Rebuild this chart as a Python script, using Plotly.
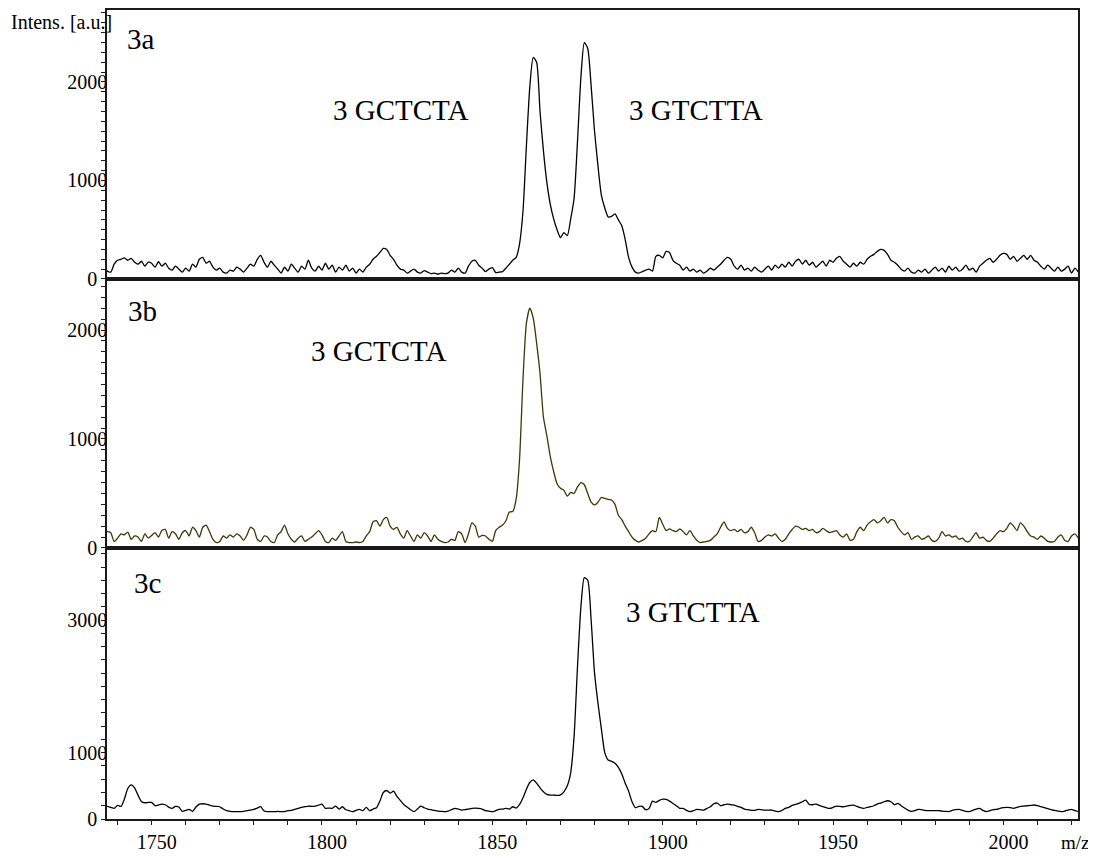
import plotly.graph_objects as go

# m/z grid: one sample per unit starting at 1736
MZ_START = 1736

INTENS_3A = [
    140, 80, 70, 150, 190, 200, 215, 190, 210, 170,
    150, 180, 130, 170, 160, 120, 175, 130, 160, 110,
    90, 130, 100, 70, 110, 80, 150, 120, 200, 220,
    160, 180, 120, 90, 110, 70, 60, 90, 80, 120,
    100, 70, 110, 150, 130, 200, 240, 170, 120, 180,
    140, 100, 60, 120, 80, 150, 110, 70, 130, 100,
    190, 110, 80, 130, 90, 160, 100, 140, 70, 120,
    90, 140, 80, 110, 60, 100, 70, 120, 150, 200,
    230, 270, 310, 300, 240, 200, 140, 100, 90, 60,
    80, 100, 70, 60, 85, 70, 55, 60, 50, 60,
    55, 60, 90, 70, 110, 70, 60, 130, 180, 190,
    140, 110, 75, 100, 115, 65, 70, 75, 110, 150,
    190, 220, 360, 690, 1350, 1950, 2250, 2200, 1700, 1300,
    980, 760, 610, 500, 420, 470, 440, 610, 820, 1400,
    2050, 2400, 2340, 1960, 1500, 1150, 850, 720, 630, 635,
    660, 600, 540, 400, 220, 120, 70, 60, 75, 90,
    100, 80, 230, 240, 215, 280, 270, 190, 160, 140,
    90, 120, 80, 100, 70, 90, 60, 80, 110, 90,
    120, 150, 190, 220, 200, 130, 100, 140, 90, 110,
    80, 120, 90, 70, 100, 130, 90, 140, 110, 150,
    120, 170, 130, 180, 200, 150, 190, 140, 170, 120,
    150, 180, 130, 190, 170, 210, 230, 180, 150, 120,
    160, 130, 170, 150, 200, 230, 250, 280, 300, 290,
    250, 190, 170, 140, 100, 80, 110, 70, 60, 90,
    70, 100, 60, 90, 120, 80, 110, 70, 130, 90,
    120, 80, 100, 140, 90, 110, 70, 130, 160, 190,
    210, 170, 200, 240, 260, 250, 200, 230, 180, 210,
    240, 200, 240, 190, 170, 130, 100, 140, 110, 80,
    120, 80, 100, 130, 60, 110, 70,
]

INTENS_3B = [
    130, 150, 140, 60, 90, 130, 120, 145, 80, 110,
    100, 60, 130, 90, 115, 140, 100, 160, 170, 90,
    150, 130, 80, 140, 160, 110, 190, 160, 100, 190,
    210, 150, 80, 50, 60, 110, 90, 120, 100, 130,
    110, 70, 120, 190, 170, 80, 60, 110, 100, 60,
    50, 120, 150, 210, 130, 80, 55, 90, 110, 60,
    80, 100, 130, 160, 120, 60, 50, 90, 70, 110,
    150, 60, 50, 50, 55, 50, 60, 110, 150, 240,
    250, 200, 260, 280, 200, 170, 190, 130, 90, 160,
    110, 60, 120, 90, 140, 110, 60, 120, 80, 60,
    50, 55, 80, 70, 150, 130, 50, 130, 230, 200,
    100, 115, 110, 80, 60, 160, 190, 210, 250, 330,
    335, 450, 820, 1550, 2060, 2200, 2110, 1880, 1600, 1200,
    1030, 840, 700, 590, 548, 530, 475, 510, 500, 560,
    600, 580, 500, 420, 395, 420, 465, 455, 445, 440,
    400, 300, 260, 200, 150, 100, 70, 55, 70, 90,
    130, 160, 150, 280, 220, 160, 175, 160, 150, 175,
    150, 120, 160, 110, 70, 50, 55, 60, 70, 100,
    130, 190, 240, 180, 160, 170, 150, 170, 140, 150,
    190, 140, 60, 70, 100, 120, 110, 130, 90, 60,
    80, 130, 170, 200, 190, 170, 180, 160, 170, 140,
    150, 180, 160, 140, 150, 160, 120, 100, 130, 70,
    80, 150, 190, 160, 210, 240, 260, 230, 250, 280,
    230, 260, 250, 190, 150, 120, 140, 80, 100, 110,
    80, 90, 110, 70, 60, 90, 150, 110, 120, 100,
    110, 80, 90, 60, 60, 100, 140, 90, 100, 70,
    60, 90, 130, 160, 150, 180, 230, 200, 160, 230,
    200, 150, 110, 100, 80, 110, 90, 60, 55, 60,
    100, 120, 70, 60, 110, 130, 90,
]

INTENS_3C = [
    170, 190, 175, 160, 205, 190, 300, 460, 515, 470,
    360, 265, 245, 250, 250, 200, 210, 225, 215, 180,
    160, 190, 180, 115, 130, 145, 115, 180, 225, 230,
    225, 210, 195, 190, 185, 150, 125, 115, 110, 110,
    110, 115, 125, 135, 145, 165, 185, 120, 110, 112,
    110, 115, 110, 112, 125, 130, 145, 160, 175, 185,
    195, 190, 195, 210, 225, 160, 165, 160, 195, 150,
    185, 140, 125, 110, 130, 145, 125, 175, 125, 150,
    170, 270, 400, 430, 390, 420, 340, 280, 220, 180,
    140, 110, 150, 195, 170, 150, 140, 130, 120, 115,
    110, 120, 140, 160, 150, 135, 140, 150, 160, 165,
    160, 150, 125, 120, 110, 125, 145, 150, 160, 150,
    185, 165, 220, 320, 450, 550, 590, 540, 470, 410,
    370, 360, 360, 355, 365, 410, 500, 700, 1250, 2300,
    3200, 3640, 3600, 3000, 2200, 1750, 1360, 1000, 890, 870,
    840, 780, 680, 540, 420, 260, 170, 190, 190, 140,
    160, 270, 250, 280, 300, 295, 270, 235, 200, 160,
    160, 130, 110, 125, 145, 140, 135, 160, 185, 230,
    240, 200, 215, 225, 215, 210, 190, 175, 150, 140,
    130, 130, 145, 140, 135, 135, 135, 120, 110, 130,
    160, 175, 205, 220, 236, 260, 285, 220, 215, 225,
    205, 185, 170, 160, 175, 195, 190, 185, 195, 205,
    210, 190, 170, 160, 175, 185, 200, 225, 240, 260,
    275, 260, 215, 235, 200, 165, 135, 115, 125, 145,
    140, 130, 126, 125, 125, 125, 120, 115, 112, 130,
    140, 145, 130, 115, 112, 130, 150, 160, 130, 112,
    125, 140, 146, 160, 170, 176, 170, 160, 175, 190,
    196, 200, 205, 211, 200, 185, 170, 155, 140, 130,
    120, 112, 120, 135, 146, 125, 111,
]

PANEL_NAMES = ["3a", "3b", "3c"]
PANEL_COLORS = ["#000000", "#3a3a08", "#000000"]
Y_RANGES = [[0, 2730], [0, 2468], [0, 4087]]
Y_TICKVALS = [[0, 1000, 2000], [0, 1000, 2000], [0, 1000, 3000]]
Y_TICKTEXT = [["0\u00a0\u00a0", "1000", "2000"],
              ["0\u00a0\u00a0", "1000", "2000"],
              ["0\u00a0\u00a0", "1000", "3000"]]
Y_MINOR = [100, 100, 200]
X_RANGE = [1736.9, 2021.9]
X_TICKVALS = [1750, 1800, 1850, 1900, 1950, 2000]

FONT = "Liberation Serif, Times New Roman, serif"

# page offset of the figure inside the browser page (body margin)
PAGE_OFF = 8

fig = go.Figure()
series = [INTENS_3A, INTENS_3B, INTENS_3C]
domains = [[0.6675, 1.0], [0.335, 0.6675], [0.0, 0.335]]

for i, vals in enumerate(series):
    mz = [MZ_START + k for k in range(len(vals))]
    xa = "x" if i == 0 else f"x{i+1}"
    ya = "y" if i == 0 else f"y{i+1}"
    fig.add_trace(go.Scatter(x=mz, y=vals, mode="lines", xaxis=xa, yaxis=ya,
                             line=dict(color=PANEL_COLORS[i], width=1.3,
                                       shape="spline", smoothing=0.6),
                             showlegend=False, hoverinfo="skip"))

AX_COLOR = "#1a1a1a"
layout = dict(
    width=1096 - PAGE_OFF, height=856 - PAGE_OFF,
    margin=dict(l=107 - PAGE_OFF, r=18, t=10 - PAGE_OFF, b=37, autoexpand=False),
    paper_bgcolor="white", plot_bgcolor="white",
    font=dict(family=FONT, color="black", size=19),
    showlegend=False,
)
for i in range(3):
    xkey = "xaxis" if i == 0 else f"xaxis{i+1}"
    ykey = "yaxis" if i == 0 else f"yaxis{i+1}"
    xa_anchor = "y" if i == 0 else f"y{i+1}"
    ya_anchor = "x" if i == 0 else f"x{i+1}"
    bottom = (i == 2)
    xdict = dict(
        domain=[0, 1], anchor=xa_anchor, range=X_RANGE,
        showgrid=False, zeroline=False,
        showline=True, linecolor=AX_COLOR, linewidth=1.5, mirror=True,
    )
    if bottom:
        xdict.update(
            tickmode="array", tickvals=X_TICKVALS,
            ticks="outside", ticklen=4, tickwidth=1, tickcolor=AX_COLOR,
            tickfont=dict(size=20, family=FONT, color="black"),
            ticklabelshift=5,
            minor=dict(dtick=10, tick0=1740, ticks="outside", ticklen=4,
                       tickwidth=1, tickcolor=AX_COLOR),
        )
    else:
        xdict.update(showticklabels=False, ticks="", matches="x3")
    layout[xkey] = xdict
    layout[ykey] = dict(
        domain=domains[i], anchor=ya_anchor, range=Y_RANGES[i],
        showgrid=False, zeroline=False,
        showline=True, linecolor=AX_COLOR, linewidth=1.5, mirror=True,
        tickmode="array", tickvals=Y_TICKVALS[i], ticktext=Y_TICKTEXT[i],
        ticks="outside", ticklen=4, tickwidth=1, tickcolor=AX_COLOR,
        tickfont=dict(size=20, family=FONT, color="black"),
        ticklabelstandoff=-10,
        minor=dict(dtick=Y_MINOR[i], tick0=0, ticks="outside", ticklen=4,
                   tickwidth=1, tickcolor=AX_COLOR),
    )
fig.update_layout(**layout)

# annotations: positions given in screen pixels, converted to paper coords
def px_x(px):
    return (px - 107) / 971.0

def px_y(py):
    return (819 - py) / 809.0

annots = [
    ("Intens. [a.u.]", 9, 22, 20, "left", "middle"),
    ("3a", 125, 39, 29, "left", "middle"),
    ("3b", 126, 311, 29, "left", "middle"),
    ("3c", 132, 583, 29, "left", "middle"),
    ("3 GCTCTA", 400, 110, 29, "center", "middle"),
    ("3 GTCTTA", 696, 110, 29, "center", "middle"),
    ("3 GCTCTA", 378, 351, 29, "center", "middle"),
    ("3 GTCTTA", 693, 612, 29, "center", "middle"),
    ("m/z", 1075, 855, 19, "center", "bottom"),
]
for text, px, py, size, xanc, yanc in annots:
    fig.add_annotation(text=text, xref="paper", yref="paper",
                       x=px_x(px), y=px_y(py), xanchor=xanc, yanchor=yanc,
                       showarrow=False, font=dict(size=size, family=FONT, color="black"))

fig.write_html("out.html")
